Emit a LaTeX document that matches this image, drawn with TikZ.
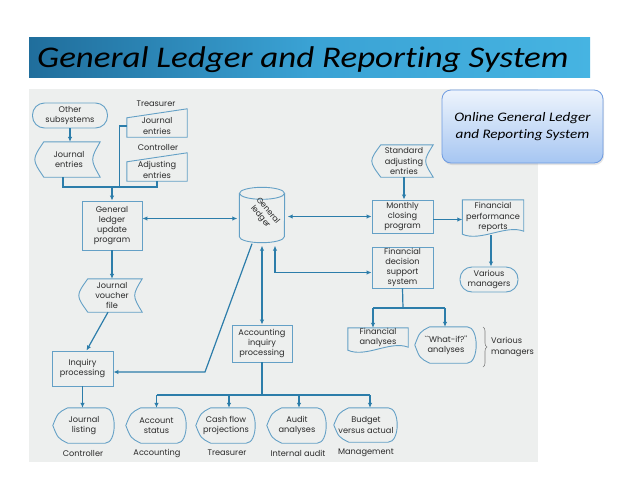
\documentclass[tikz,border=0pt]{standalone}
\usepackage{fontspec}
\setmainfont{Carlito}[FakeStretch=1.165, Ligatures=NoCommon]
\newfontfamily\geo{Poppins}
\usetikzlibrary{arrows.meta,shapes.geometric,decorations.pathreplacing,calc,shadows}
\definecolor{ln}{HTML}{2C7DAA}
\definecolor{bdc}{HTML}{64A0C6}
\definecolor{txc}{HTML}{2A2A2A}
\definecolor{bgc}{HTML}{EDEFEE}
\newcommand\stored[1]{\draw[bd] ([xshift=6pt]#1.north west) -- (#1.north east) .. controls ([xshift=-10pt]#1.east) .. (#1.south east) -- ([xshift=6pt]#1.south west) .. controls ([xshift=-6pt]#1.west) .. cycle;}
\newcommand\manual[1]{\draw[bd] (#1.south west) -- ([yshift=-3pt]#1.north west) -- ([yshift=6pt]#1.north east) -- (#1.south east) -- cycle;}
\newcommand\docu[1]{\draw[bd] (#1.north west) -- (#1.north east) -- ([yshift=3pt]#1.south east) .. controls ([xshift=-18pt,yshift=10pt]#1.south east) and ([xshift=18pt,yshift=-8pt]#1.south west) .. (#1.south west) -- cycle;}
\newcommand\disp[1]{\draw[bd] ([xshift=15pt]#1.north west) -- ([xshift=-10pt]#1.north east) .. controls ([xshift=2pt]#1.north east) and ([xshift=2pt]#1.south east) .. ([xshift=-10pt]#1.south east) -- ([xshift=15pt]#1.south west) .. controls ([xshift=5pt,yshift=5pt]#1.south west) .. (#1.west) .. controls ([xshift=5pt,yshift=-5pt]#1.north west) .. cycle;}
\newcommand\cyl[1]{\draw[bd] ([yshift=-6pt]#1.north west) -- ([yshift=6pt]#1.south west) arc[start angle=180, end angle=360, x radius=22.5pt, y radius=6pt] -- ([yshift=-6pt]#1.north east);
  \draw[bd] ([yshift=-6pt]#1.north) ellipse[x radius=22.5pt, y radius=6pt];}
\begin{document}
\begin{tikzpicture}[x=1pt,y=-1pt,
  t/.style={font=\geo\fontsize{8.2}{10.2}\selectfont, text=txc, align=center, inner sep=0pt},
  bd/.style={draw=bdc, line width=0.9pt},
  bxs/.style={t, bd},
  stad/.style={t, bd, rounded corners=12pt},
  lnk/.style={ln, line width=1.2pt},
  arr/.style={lnk, -{Latex[length=5pt,width=4.5pt]}},
  arrb/.style={lnk, {Latex[length=5pt,width=4.5pt]}-{Latex[length=5pt,width=4.5pt]}}]
\useasboundingbox (0,0) rectangle (638,493);
\fill[white] (0,0) rectangle (638,493);
\fill[bgc] (29,89) rectangle (538,462);
% title
\shade[left color={rgb,255:red,32;green,110;blue,156}, right color={rgb,255:red,70;green,180;blue,226}, middle color={rgb,255:red,58;green,162;blue,212}] (29,37) rectangle (590,77);
\node[anchor=base west, inner sep=0pt, font=\itshape\fontsize{30}{30}\selectfont] (title) at (37,67) {General Ledger and Reporting System};
% callout
\node[draw={rgb,255:red,110;green,155;blue,225}, line width=0.8pt, rounded corners=9pt, top color={rgb,255:red,238;green,244;blue,252}, bottom color={rgb,255:red,166;green,198;blue,242}, minimum width=161pt, minimum height=73pt, align=center, font=\itshape\fontsize{13}{17}\selectfont, drop shadow={opacity=0.2, shadow xshift=1pt, shadow yshift=-2pt}] (cal) at (522.5,126.5) {Online General Ledger\\and Reporting System};
% nodes
\node[stad, minimum width=75pt, minimum height=25pt] (os) at (70,115.5) {Other\\subsystems};
\node[t, minimum width=62pt, minimum height=35pt] (je) at (69,159.5) {Journal\\entries}; \stored{je}
\node[t] (trl) at (156,104) {Treasurer};
\node[t, minimum width=60pt, minimum height=22pt] (tj) at (157,126) {Journal\\entries}; \manual{tj}
\node[t] (ctl) at (158,147) {Controller};
\node[t, minimum width=60pt, minimum height=22pt] (adj) at (157,170) {Adjusting\\entries}; \manual{adj}
\node[bxs, minimum width=60pt, minimum height=49pt] (upd) at (112,225.5) {General\\ledger\\update\\program};
\node[minimum width=45pt, minimum height=55pt, inner sep=0pt] (gl) at (262,215) {}; \cyl{gl}
\node[t, font=\geo\fontsize{8}{9.6}\selectfont, rotate=-50] (glt) at (264,214) {General\\ledger};
\node[t, minimum width=58pt, minimum height=32pt] (sae) at (404,161) {Standard\\adjusting\\entries}; \stored{sae}
\node[bxs, minimum width=61pt, minimum height=33pt] (mcp) at (402.5,216.5) {Monthly\\closing\\program};
\node[t, minimum width=61pt, minimum height=34pt] (fpr) at (493,217) {Financial\\performance\\reports}; \docu{fpr}
\node[stad, minimum width=58pt, minimum height=25pt] (vm) at (489,279.5) {Various\\managers};
\node[bxs, minimum width=61pt, minimum height=41pt] (fdss) at (402.5,267.5) {Financial\\decision\\support\\system};
\node[t, minimum width=60pt, minimum height=33pt] (jvf) at (112,295.5) {Journal\\voucher\\file}; \stored{jvf}
\node[bxs, minimum width=61pt, minimum height=35pt] (ip) at (82.5,368.5) {Inquiry\\processing};
\node[bxs, minimum width=60pt, minimum height=37pt] (aip) at (262,343.5) {Accounting\\inquiry\\processing};
\node[t, minimum width=62pt, minimum height=35pt] (jl) at (84,425.5) {Journal\\listing}; \disp{jl}
\node[t, minimum width=61pt, minimum height=35pt] (as) at (156.5,425.5) {Account\\status}; \disp{as}
\node[t, minimum width=60pt, minimum height=35pt] (cfp) at (226,425.5) {Cash flow\\projections}; \disp{cfp}
\node[t, minimum width=60pt, minimum height=35pt] (aa) at (297,425.5) {Audit\\analyses}; \disp{aa}
\node[t, minimum width=64pt, minimum height=34pt] (bva) at (366,425) {Budget\\versus actual}; \disp{bva}
\node[minimum width=60pt, minimum height=22pt, inner sep=0pt] (fa) at (378,339) {}; \docu{fa}
\node[t] (fat) at (378,337.5) {Financial\\analyses};
\node[t, minimum width=62pt, minimum height=36pt] (wi) at (446,345) {``What-if?''\\analyses}; \disp{wi}
% bottom labels
\node[t] (l1) at (83,453) {Controller};
\node[t] (l2) at (157,453) {Accounting};
\node[t] (l3) at (227,453) {Treasurer};
\node[t] (l4) at (298,453) {Internal audit};
\node[t] (l5) at (366,453) {Management};
\node[t, align=left, anchor=west] (vml) at (491,347) {Various\\managers};
\draw[txc!60, line width=0.6pt, decorate, decoration={brace, amplitude=4pt}] (483,327) -- (483,367);
% connectors
\draw[arr] (os.south) -- (os.south |- je.north);
\coordinate (jn) at (112,187);
\draw[lnk] ([xshift=-6pt]je.south) |- (jn) -| (adj.south);
\draw[lnk] (tj.west) -- ++(-7,0) |- (jn);
\draw[arr] (jn) -- (jn |- upd.north);
\draw[arrb, shorten >=2pt] ([yshift=7pt]upd.east) -- ([yshift=7pt]upd.east -| gl.west);
\draw[arrb, shorten <=3pt] (gl.east |- mcp.west) -- (mcp.west);
\draw[arr] (sae.south) -- (sae.south |- mcp.north);
\draw[arr] ([yshift=-3pt]mcp.east) -- ([yshift=-3pt]mcp.east -| fpr.west);
\draw[arr] ([xshift=-2pt,yshift=-1pt]fpr.south) -- ([xshift=-2pt]fpr.south |- vm.north);
\draw[arrb] ([yshift=-5pt]fdss.west) -| ([xshift=13pt,yshift=-3pt]gl.south);
\draw[arrb, shorten <=3pt] (gl.south) -- (aip.north);
\coordinate (bend) at (205,372);
\draw[arr] ([xshift=-10pt,yshift=-1pt]gl.south) -- (bend) -- (bend -| ip.east);
\draw[arr] (upd.south) -- (jvf.north);
\draw[arr] ([xshift=-4pt]jvf.south) -- ([xshift=4pt]ip.north);
\draw[arr] (ip.south) -- (ip.south |- jl.north);
\coordinate (hub) at (262,395);
\draw[lnk] (aip.south) -- (hub);
\draw[lnk] (as.north |- hub) -- ([xshift=4pt]bva.north |- hub);
\draw[arr] (as.north |- hub) -- (as.north);
\draw[arr] ([xshift=3pt]cfp.north |- hub) -- ([xshift=3pt]cfp.north);
\draw[arr] ([xshift=2pt]aa.north |- hub) -- ([xshift=2pt]aa.north);
\draw[arr] ([xshift=4pt]bva.north |- hub) -- ([xshift=4pt]bva.north);
\coordinate (fh) at (403,308);
\draw[lnk] (fdss.south) -- (fh);
\draw[lnk] ([xshift=-5pt]fa.north |- fh) -- ([xshift=-1pt]wi.north |- fh);
\draw[arr] ([xshift=-5pt]fa.north |- fh) -- ([xshift=-5pt]fa.north);
\draw[arr] ([xshift=-1pt]wi.north |- fh) -- ([xshift=-1pt]wi.north);
\end{tikzpicture}
\end{document}
